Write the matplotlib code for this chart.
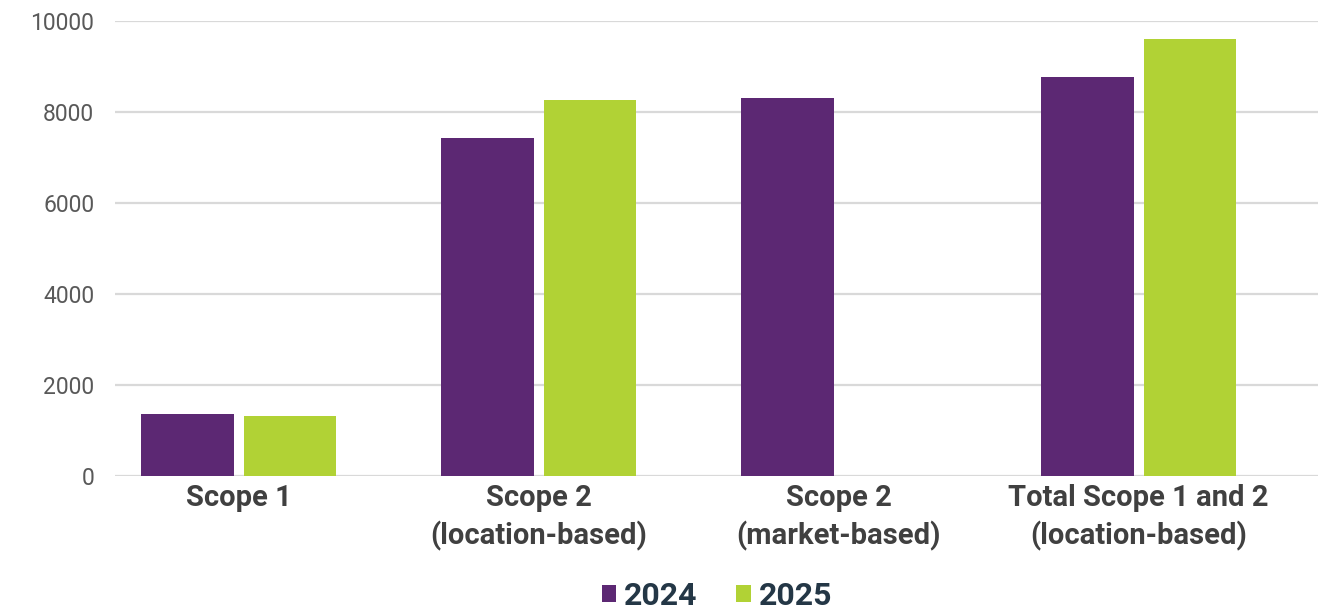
import matplotlib.pyplot as plt
import numpy as np

plt.rcParams['font.family'] = ['Roboto', 'DejaVu Sans']

categories = ['Scope 1', 'Scope 2\n(location-based)', 'Scope 2\n(market-based)',
              'Total Scope 1 and 2\n(location-based)']
values_2024 = [1360, 7430, 8310, 8770]
values_2025 = [1320, 8260, 0, 9600]
series_names = ['2024', '2025']
colors = ['#5C2873', '#B1D235']

fig = plt.figure(figsize=(13.39, 6.10), dpi=100)
ax = fig.add_axes([115 / 1339, 1 - 476 / 610, (1318 - 115) / 1339, (476 - 21) / 610])

x = np.arange(len(categories))
w = 0.307
gap = 0.034
ax.bar(x - (w + gap) / 2, values_2024, w, color=colors[0], label=series_names[0], zorder=3)
ax.bar(x + (w + gap) / 2, values_2025, w, color=colors[1], label=series_names[1], zorder=3)

ax.set_ylim(0, 10000)
ax.set_xlim(-0.412, 3.598)
ax.set_yticks(range(0, 10001, 2000))
ax.grid(axis='y', color='#d9d9d9', linewidth=1.6, zorder=0)
for s in ax.spines.values():
    s.set_visible(False)
ax.tick_params(axis='both', length=0)
ax.tick_params(axis='y', labelsize=16.5, labelcolor='#595959', pad=15)
ax.set_xticks(x)
ax.set_xticklabels(categories, fontsize=21, fontweight='bold', color='#404040',
                   linespacing=1.35)
ax.tick_params(axis='x', pad=6)

leg = fig.legend(loc='center', bbox_to_anchor=(717 / 1339, 1 - 596 / 610), ncol=2,
                 frameon=False, prop={'size': 23, 'weight': 'bold'},
                 handlelength=0.45, handleheight=0.45, handletextpad=0.25,
                 columnspacing=1.2)
for t in leg.get_texts():
    t.set_color('#243746')

plt.savefig('out.png', dpi=100)
